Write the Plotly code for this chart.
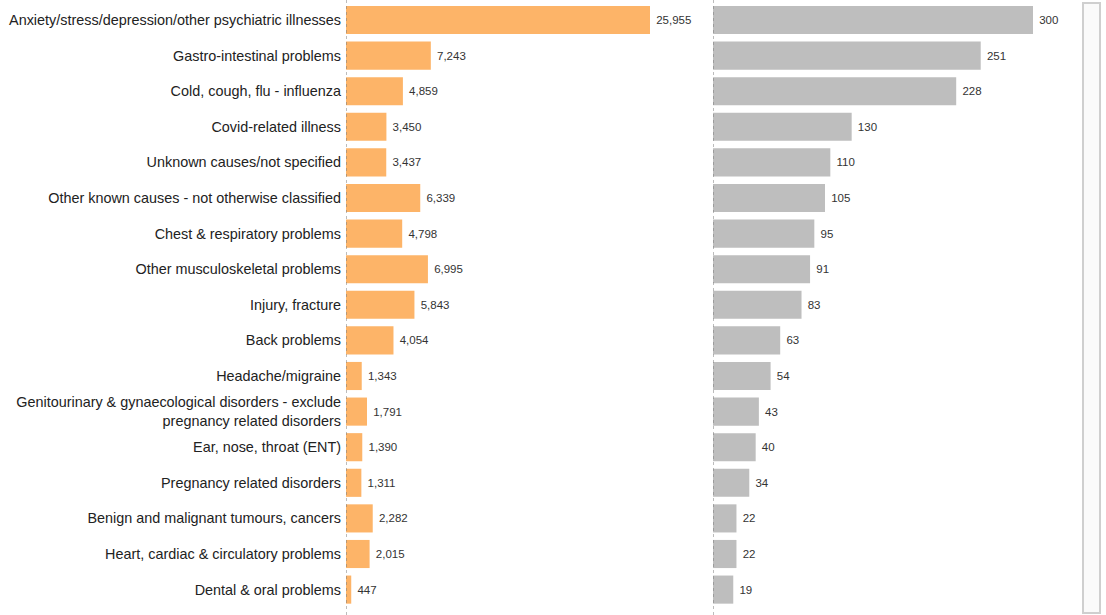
import plotly.graph_objects as go

categories = [
    "Anxiety/stress/depression/other psychiatric illnesses",
    "Gastro-intestinal problems",
    "Cold, cough, flu - influenza",
    "Covid-related illness",
    "Unknown causes/not specified",
    "Other known causes - not otherwise classified",
    "Chest & respiratory problems",
    "Other musculoskeletal problems",
    "Injury, fracture",
    "Back problems",
    "Headache/migraine",
    "Genitourinary & gynaecological disorders - exclude<br>pregnancy related disorders",
    "Ear, nose, throat (ENT)",
    "Pregnancy related disorders",
    "Benign and malignant tumours, cancers",
    "Heart, cardiac & circulatory problems",
    "Dental & oral problems",
]
left_values = [25955, 7243, 4859, 3450, 3437, 6339, 4798, 6995, 5843, 4054,
               1343, 1791, 1390, 1311, 2282, 2015, 447]
right_values = [300, 251, 228, 130, 110, 105, 95, 91, 83, 63,
                54, 43, 40, 34, 22, 22, 19]

W, H = 1106, 615
ypos = list(range(len(categories)))

fig = go.Figure()
fig.add_trace(go.Bar(
    x=left_values, y=ypos, orientation="h", xaxis="x", yaxis="y",
    marker=dict(color="#FDB468", line=dict(width=0)), width=0.79,
    text=left_values, texttemplate=" %{x:,}", textposition="outside",
    textfont=dict(size=11.5, color="#333333", family="Liberation Sans, Arial"),
    cliponaxis=False, showlegend=False,
))
fig.add_trace(go.Bar(
    x=right_values, y=ypos, orientation="h", xaxis="x2", yaxis="y2",
    marker=dict(color="#BEBEBE", line=dict(width=0)), width=0.79,
    text=right_values, texttemplate=" %{x:,}", textposition="outside",
    textfont=dict(size=11.5, color="#333333", family="Liberation Sans, Arial"),
    cliponaxis=False, showlegend=False,
))

spacing = 35.6
top_val = -20 / spacing
bot_val = top_val + H / spacing
yrange = [bot_val, top_val]

fig.update_layout(
    width=W, height=H,
    margin=dict(l=0, r=0, t=0, b=0),
    paper_bgcolor="white", plot_bgcolor="white",
    font=dict(family="Liberation Sans, Arial", size=14, color="#222222"),
    bargap=0.2,
    xaxis=dict(domain=[346 / W, 705 / W], range=[0, 359 / 304 * 25955],
               showgrid=False, zeroline=False, showticklabels=False,
               showline=False, fixedrange=True),
    xaxis2=dict(domain=[713 / W, 1075 / W], range=[0, 362 / 320 * 300],
                showgrid=False, zeroline=False, showticklabels=False,
                showline=False, anchor="y2"),
    yaxis=dict(range=yrange, tickmode="array", tickvals=ypos, ticktext=categories,
               showgrid=False, zeroline=False, showline=False, ticks="",
               ticklabelstandoff=4, tickfont=dict(size=14.4, color="#222222")),
    yaxis2=dict(range=yrange, anchor="x2", showticklabels=False, showgrid=False,
                zeroline=False, showline=False, ticks=""),
    shapes=[
        dict(type="line", xref="x", yref="paper", x0=0, x1=0, y0=0, y1=1,
             line=dict(color="#7a7a7a", width=1, dash="dot")),
        dict(type="line", xref="x2", yref="paper", x0=0, x1=0, y0=0, y1=1,
             line=dict(color="#7a7a7a", width=1, dash="dot")),
        dict(type="rect", xref="paper", yref="paper",
             x0=1083 / W, x1=1100 / W, y0=1 - 613 / H, y1=1 - 3 / H,
             line=dict(color="#cfcfcf", width=2), fillcolor="#fafafa"),
    ],
)

fig.write_html("out.html")
